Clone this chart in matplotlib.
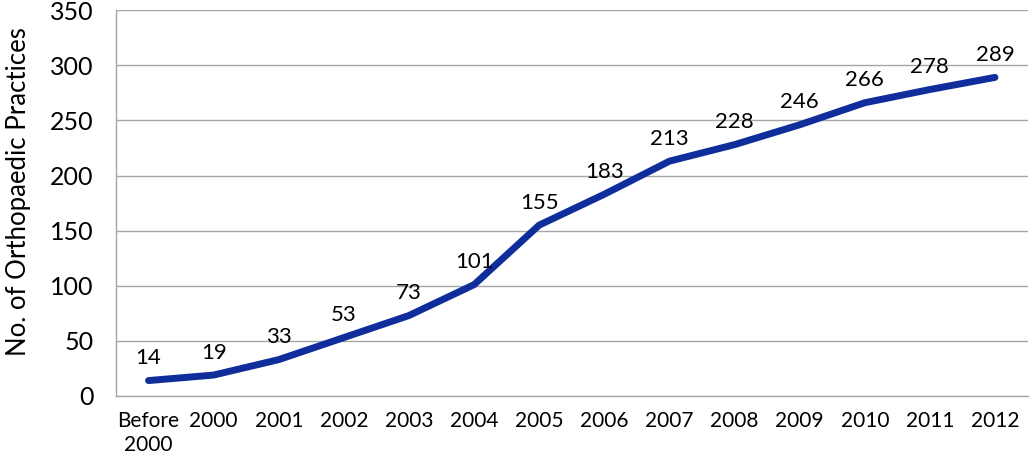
"""Orthopaedic practices count over time."""
import matplotlib
matplotlib.use("Agg")
import matplotlib.pyplot as plt

categories = ["Before\n2000", "2000", "2001", "2002", "2003", "2004", "2005",
              "2006", "2007", "2008", "2009", "2010", "2011", "2012"]
practices = [14, 19, 33, 53, 73, 101, 155, 183, 213, 228, 246, 266, 278, 289]

LINE_COLOR = "#0F2E9C"
GRID_COLOR = "#A6A6A6"
plt.rcParams["font.family"] = ["Lato", "DejaVu Sans"]


def build():
    fig = plt.figure(figsize=(10.30, 4.61), dpi=100)
    ax = fig.add_axes([0.1126, 0.141, 0.885, 0.837])

    x = list(range(len(categories)))
    ax.plot(x, practices, color=LINE_COLOR, linewidth=5,
            solid_capstyle="round", solid_joinstyle="round", zorder=3)

    for xi, v in zip(x, practices):
        ax.annotate(str(v), (xi, v), xytext=(0, 9), textcoords="offset points",
                    ha="center", va="bottom", fontsize=16, color="#000000")

    ax.set_xlim(-0.5, len(categories) - 0.5)
    ax.set_ylim(0, 350)
    ax.set_yticks(range(0, 351, 50))
    ax.set_xticks(x)
    ax.set_xticklabels(categories, fontsize=15, linespacing=1.25)
    ax.tick_params(axis="y", labelsize=18, length=0, pad=16)
    ax.tick_params(axis="x", length=0, pad=11)

    ax.grid(True, axis="y", color=GRID_COLOR, linewidth=1.0)
    ax.set_axisbelow(True)
    for side in ("top", "right"):
        ax.spines[side].set_visible(False)
    for side in ("left", "bottom"):
        ax.spines[side].set_color(GRID_COLOR)
        ax.spines[side].set_linewidth(1.0)

    ax.set_ylabel("No. of Orthopaedic Practices", fontsize=18.5)
    ax.yaxis.set_label_coords(-0.093, 0.53)

    fig.savefig("out.png", dpi=100)
    plt.close(fig)


if __name__ == "__main__":
    build()
